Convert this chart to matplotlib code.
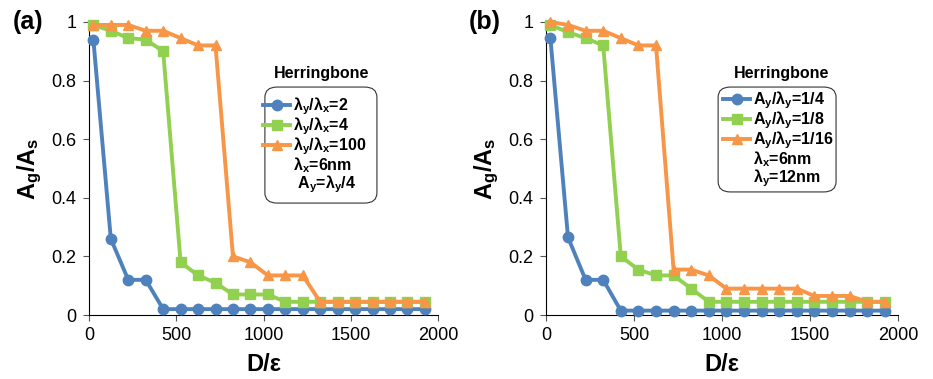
import matplotlib.pyplot as plt
from matplotlib.lines import Line2D
from matplotlib.patches import FancyBboxPatch

plt.rcParams['font.family'] = ['Liberation Sans', 'DejaVu Sans']
plt.rcParams['mathtext.fontset'] = 'custom'
plt.rcParams['mathtext.rm'] = 'Liberation Sans'
plt.rcParams['mathtext.it'] = 'Liberation Sans:bold'
plt.rcParams['mathtext.bf'] = 'Liberation Sans:bold'
plt.rcParams['mathtext.default'] = 'bf'

# D/epsilon sampling positions
d = [25 + 100 * i for i in range(20)]

# panel (a): lambda_y/lambda_x ratio
a_ratio2 = [0.94, 0.26, 0.12, 0.12, 0.02, 0.02, 0.02, 0.02, 0.02, 0.02,
            0.02, 0.02, 0.02, 0.02, 0.02, 0.02, 0.02, 0.02, 0.02, 0.02]
a_ratio4 = [0.99, 0.97, 0.945, 0.94, 0.90, 0.18, 0.135, 0.11, 0.07, 0.07,
            0.07, 0.045, 0.045, 0.045, 0.045, 0.045, 0.045, 0.045, 0.045, 0.045]
a_ratio100 = [0.99, 0.99, 0.99, 0.97, 0.97, 0.945, 0.92, 0.92, 0.20, 0.18,
              0.135, 0.135, 0.135, 0.045, 0.045, 0.045, 0.045, 0.045, 0.045, 0.045]
a_labels = [r'$\lambda_y/\lambda_x$=2', r'$\lambda_y/\lambda_x$=4', r'$\lambda_y/\lambda_x$=100']
a_extra = [r'$\lambda_x$=6nm', r' $A_y$=$\lambda_y$/4']

# panel (b): A_y/lambda_y ratio
b_q4 = [0.945, 0.265, 0.12, 0.12, 0.015, 0.015, 0.015, 0.015, 0.015, 0.015,
        0.015, 0.015, 0.015, 0.015, 0.015, 0.015, 0.015, 0.015, 0.015, 0.015]
b_q8 = [0.99, 0.965, 0.945, 0.92, 0.20, 0.155, 0.135, 0.135, 0.09, 0.045,
        0.045, 0.045, 0.045, 0.045, 0.045, 0.045, 0.045, 0.045, 0.045, 0.045]
b_q16 = [1.0, 0.99, 0.97, 0.97, 0.945, 0.92, 0.92, 0.155, 0.155, 0.135,
         0.09, 0.09, 0.09, 0.09, 0.09, 0.065, 0.065, 0.065, 0.045, 0.045]
b_labels = [r'$A_y/\lambda_y$=1/4', r'$A_y/\lambda_y$=1/8', r'$A_y/\lambda_y$=1/16']
b_extra = [r'$\lambda_x$=6nm', r'$\lambda_y$=12nm']

colors = ['#4F81BD', '#92D050', '#F79646']
markers = ['o', 's', '^']

fig = plt.figure(figsize=(9.33, 3.79), dpi=100)
ax_a = fig.add_axes([89 / 933, 1 - 315 / 379, 349 / 933, 293 / 379])
ax_b = fig.add_axes([546 / 933, 1 - 315 / 379, 352 / 933, 293 / 379])


def draw(ax, series, labels, extra, tag, leg_xy, box, title_xy):
    handles = []
    for ys, c, m, lab in zip(series, colors, markers, labels):
        h, = ax.plot(d, ys, color=c, marker=m, markersize=7.5, linewidth=2.8,
                     label=lab, clip_on=False, zorder=3)
        handles.append(h)
    for t in extra:
        handles.append(Line2D([], [], linestyle='none', label=t))
    ax.set_xlim(0, 2000)
    ax.set_ylim(0, 1)
    ax.set_xticks([0, 500, 1000, 1500, 2000])
    ax.set_yticks([0, 0.2, 0.4, 0.6, 0.8, 1])
    ax.set_yticklabels(['0', '0.2', '0.4', '0.6', '0.8', '1'])
    ax.tick_params(labelsize=13, length=4, color='#555555', pad=5)
    for s in ['top', 'right']:
        ax.spines[s].set_visible(False)
    ax.set_xlabel('D/ε', fontsize=17, fontweight='bold', labelpad=6)
    ax.set_ylabel(r'$A_g/A_s$', fontsize=17, labelpad=5)
    # rounded frame behind the legend
    x0, y0, x1, y1 = box
    frame = FancyBboxPatch((x0, y0), x1 - x0, y1 - y0,
                           boxstyle='round,pad=0,rounding_size=0.035',
                           transform=ax.transAxes, facecolor='white',
                           edgecolor='#333333', linewidth=0.8, zorder=4,
                           clip_on=False)
    ax.add_patch(frame)
    leg = ax.legend(handles=handles, loc='upper left', bbox_to_anchor=leg_xy,
                    prop={'weight': 'bold', 'size': 11.5}, frameon=False,
                    handlelength=1.7, handletextpad=0.2, labelspacing=-0.1,
                    borderpad=0, borderaxespad=0)
    leg.set_zorder(5)
    ax.text(title_xy[0], title_xy[1], 'Herringbone', transform=ax.transAxes,
            ha='center', va='center', fontsize=11.5, fontweight='bold')
    ax.text(-0.175, 1.0, tag, transform=ax.transAxes, fontsize=18,
            fontweight='bold', va='center', ha='center')


draw(ax_a, [a_ratio2, a_ratio4, a_ratio100], a_labels, a_extra, '(a)',
     (0.4986, 0.75), (0.504, 0.382, 0.825, 0.778), (0.665, 0.825))
draw(ax_b, [b_q4, b_q8, b_q16], b_labels, b_extra, '(b)',
     (0.503, 0.77), (0.489, 0.42, 0.824, 0.778), (0.668, 0.825))

fig.savefig('out.png', dpi=100)
